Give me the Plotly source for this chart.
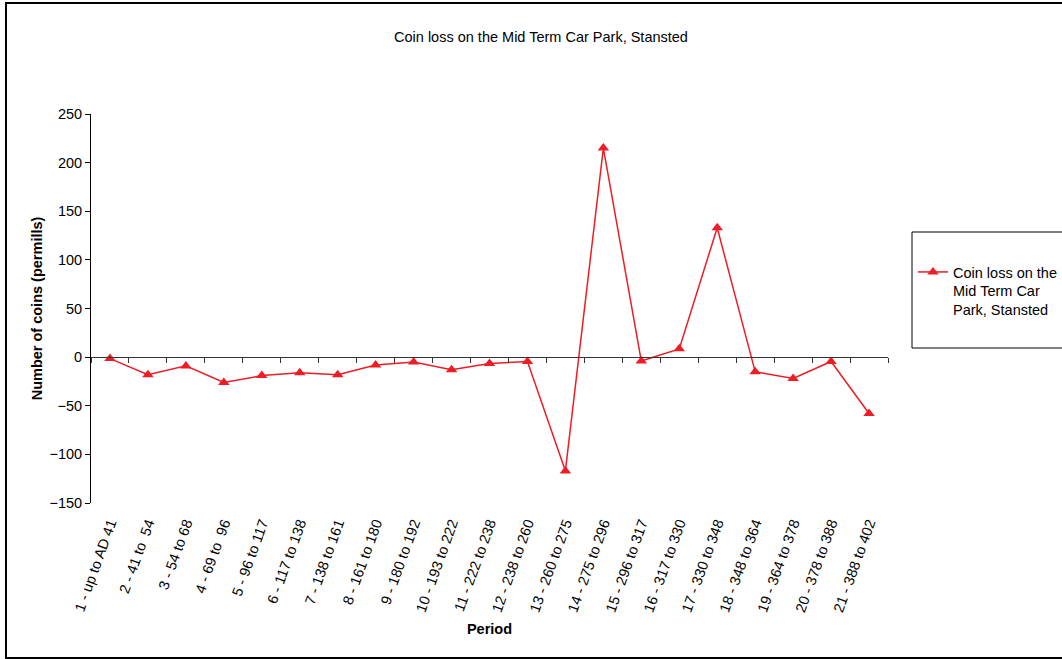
import plotly.graph_objects as go

periods = [
    "1 - up to AD 41", "2 - 41 to  54", "3 - 54 to 68", "4 - 69 to  96",
    "5 - 96 to 117", "6 - 117 to 138", "7 - 138 to 161", "8 - 161 to 180",
    "9 - 180 to 192", "10 - 193 to 222", "11 - 222 to 238", "12 - 238 to 260",
    "13 - 260 to 275", "14 - 275 to 296", "15 - 296 to 317", "16 - 317 to 330",
    "17 - 330 to 348", "18 - 348 to 364", "19 - 364 to 378", "20 - 378 to 388",
    "21 - 388 to 402",
]
coin_loss = [
    -1.5, -18, -9, -26, -19, -16, -18, -8, -5, -13, -6.5,
    -4.5, -117, 215, -4, 8.5, 133, -15, -22, -4.5, -58,
]

positions = list(range(1, len(periods) + 1))
boundaries = [p + 0.5 for p in range(0, len(periods) + 1)]

FONT = "Liberation Sans, Arial, sans-serif"
FS = 14.5

# geometry of the plotting area in pixels (used to place the frame)
W, H = 1062, 659
L, R, T, B = 91, 888, 114, 503
pw, ph = R - L, B - T


def px(x):
    return (x - L) / pw


def py(y):
    return (B - y) / ph


fig = go.Figure()
fig.add_trace(go.Scatter(
    x=positions, y=coin_loss, mode="lines+markers",
    name="Coin loss on the<br>Mid Term Car<br>Park, Stansted",
    line=dict(color="#ee1c25", width=1.5),
    marker=dict(symbol="triangle-up", size=10, color="#ee1c25"),
    cliponaxis=False,
))
# category axis drawn across the zero line
fig.add_trace(go.Scatter(
    x=[0.5, len(periods) + 0.5], y=[0, 0], xaxis="x2", mode="lines",
    line=dict(width=0), showlegend=False, hoverinfo="skip",
))

fig.update_layout(
    width=W, height=H,
    margin=dict(l=L, r=W - R, t=T, b=H - B, autoexpand=False),
    paper_bgcolor="white", plot_bgcolor="white",
    font=dict(family=FONT, size=FS, color="black"),
    title=dict(text="Coin loss on the Mid Term Car Park, Stansted",
               x=px(541), xref="paper", xanchor="center",
               y=1 - 37 / H, yanchor="middle",
               font=dict(family=FONT, size=FS, color="black")),
    xaxis=dict(
        range=[0.5, len(periods) + 0.5], tickmode="array",
        tickvals=positions, ticktext=periods, tickangle=-70,
        showline=False, showgrid=False, zeroline=False, ticks="",
        ticklabelstandoff=8,
        tickfont=dict(family=FONT, size=FS, color="black"),
        automargin=False,
        title=dict(text="<b>Period</b>", font=dict(family=FONT, size=FS, color="black"),
                   standoff=10),
    ),
    xaxis2=dict(
        overlaying="x", anchor="free", position=150 / 400, side="bottom",
        range=[0.5, len(periods) + 0.5], tickmode="array", tickvals=boundaries,
        showticklabels=False, ticks="outside", ticklen=5, tickcolor="#333",
        showline=True, linecolor="#333", linewidth=1, showgrid=False, zeroline=False,
    ),
    yaxis=dict(
        range=[-150, 250], dtick=50, tick0=0,
        showline=True, linecolor="black", linewidth=1,
        ticks="outside", ticklen=5, tickcolor="black",
        showgrid=False, zeroline=False, automargin=False,
        tickfont=dict(family=FONT, size=FS, color="black"),
        title=dict(text="<b>Number of coins (permills)</b>",
                   font=dict(family=FONT, size=FS, color="black"), standoff=3),
    ),
    legend=dict(
        x=px(913), xanchor="left", y=py(291), yanchor="middle", valign="top",
        bgcolor="rgba(0,0,0,0)", borderwidth=0,
        font=dict(family=FONT, size=FS, color="black"),
    ),
    showlegend=True,
    shapes=[
        # outer chart frame
        dict(type="rect", xref="paper", yref="paper",
             x0=px(6), x1=px(1080), y0=py(658), y1=py(3),
             line=dict(color="black", width=2), layer="below"),
        # legend frame
        dict(type="rect", xref="paper", yref="paper",
             x0=px(912), x1=px(1075), y0=py(348), y1=py(232),
             line=dict(color="black", width=1), layer="below"),
    ],
)

fig.write_html("out.html")
